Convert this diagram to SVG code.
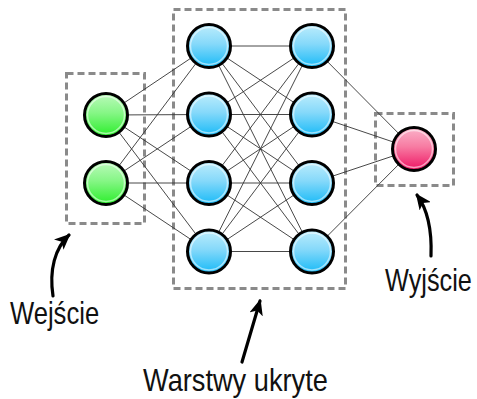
<svg xmlns="http://www.w3.org/2000/svg" width="477" height="399" viewBox="0 0 477 399">
  <defs>
    <linearGradient id="gGreen" x1="0" y1="0" x2="0" y2="1">
      <stop offset="0" stop-color="#bcfabc"/>
      <stop offset="0.45" stop-color="#86f686"/>
      <stop offset="1" stop-color="#2aee2a"/>
    </linearGradient>
    <linearGradient id="gBlue" x1="0" y1="0" x2="0" y2="1">
      <stop offset="0" stop-color="#bdedfc"/>
      <stop offset="0.45" stop-color="#86d9fa"/>
      <stop offset="1" stop-color="#18baf7"/>
    </linearGradient>
    <linearGradient id="gPink" x1="0" y1="0" x2="0" y2="1">
      <stop offset="0" stop-color="#fab4ca"/>
      <stop offset="0.45" stop-color="#f77ba2"/>
      <stop offset="1" stop-color="#ee1262"/>
    </linearGradient>
    <marker id="head" viewBox="0 0 16 14" refX="14" refY="7" markerWidth="16" markerHeight="14" markerUnits="userSpaceOnUse" orient="auto">
      <path d="M0,0 L16,7 L0,14 L4,7 Z" fill="#000"/>
    </marker>
    <style>
      .box { fill: none; stroke: #8a8a8a; stroke-width: 3; stroke-dasharray: 7 4; }
      .edge { stroke: #333; stroke-width: 0.9; fill: none; }
      .node { stroke: #000; stroke-width: 3; }
      .hl { fill: none; stroke: #fff; stroke-opacity: 0.55; stroke-width: 1.5; }
      .lbl { font-family: "Liberation Sans", Arial, sans-serif; font-size: 32px; fill: #111; }
      .arrow { fill: none; stroke: #000; stroke-width: 3.2; stroke-linecap: round; marker-end: url(#head); }
    </style>
  </defs>
  <rect width="477" height="399" fill="#fff"/>

  <g id="boxes">
    <rect class="box" x="66.5" y="73.5" width="78" height="150"/>
    <rect class="box" x="173.5" y="9.5" width="172" height="279"/>
    <rect class="box" x="375.5" y="113.5" width="78" height="72"/>
  </g>

  <g id="connectors">
    <!-- input to hidden1 -->
    <line class="edge" x1="106" y1="115" x2="209" y2="46"/>
    <line class="edge" x1="106" y1="115" x2="209" y2="114.5"/>
    <line class="edge" x1="106" y1="115" x2="209" y2="183"/>
    <line class="edge" x1="106" y1="115" x2="209" y2="251.5"/>
    <line class="edge" x1="106" y1="183" x2="209" y2="46"/>
    <line class="edge" x1="106" y1="183" x2="209" y2="114.5"/>
    <line class="edge" x1="106" y1="183" x2="209" y2="183"/>
    <line class="edge" x1="106" y1="183" x2="209" y2="251.5"/>
    <!-- hidden1 to hidden2 -->
    <line class="edge" x1="209" y1="46" x2="312" y2="46"/>
    <line class="edge" x1="209" y1="46" x2="312" y2="114.5"/>
    <line class="edge" x1="209" y1="46" x2="312" y2="183"/>
    <line class="edge" x1="209" y1="46" x2="312" y2="251.5"/>
    <line class="edge" x1="209" y1="114.5" x2="312" y2="46"/>
    <line class="edge" x1="209" y1="114.5" x2="312" y2="114.5"/>
    <line class="edge" x1="209" y1="114.5" x2="312" y2="183"/>
    <line class="edge" x1="209" y1="114.5" x2="312" y2="251.5"/>
    <line class="edge" x1="209" y1="183" x2="312" y2="46"/>
    <line class="edge" x1="209" y1="183" x2="312" y2="114.5"/>
    <line class="edge" x1="209" y1="183" x2="312" y2="183"/>
    <line class="edge" x1="209" y1="183" x2="312" y2="251.5"/>
    <line class="edge" x1="209" y1="251.5" x2="312" y2="46"/>
    <line class="edge" x1="209" y1="251.5" x2="312" y2="114.5"/>
    <line class="edge" x1="209" y1="251.5" x2="312" y2="183"/>
    <line class="edge" x1="209" y1="251.5" x2="312" y2="251.5"/>
    <!-- hidden2 to output -->
    <line class="edge" x1="312" y1="46" x2="414" y2="149"/>
    <line class="edge" x1="312" y1="114.5" x2="414" y2="149"/>
    <line class="edge" x1="312" y1="183" x2="414" y2="149"/>
    <line class="edge" x1="312" y1="251.5" x2="414" y2="149"/>
  </g>

  <g id="in1"><circle class="node" cx="106" cy="115" r="21.5" fill="url(#gGreen)"/><circle class="hl" cx="106" cy="115" r="18.5"/></g>
  <g id="in2"><circle class="node" cx="106" cy="183" r="21.5" fill="url(#gGreen)"/><circle class="hl" cx="106" cy="183" r="18.5"/></g>

  <g id="h1a"><circle class="node" cx="209" cy="46" r="21.5" fill="url(#gBlue)"/><circle class="hl" cx="209" cy="46" r="18.5"/></g>
  <g id="h1b"><circle class="node" cx="209" cy="114.5" r="21.5" fill="url(#gBlue)"/><circle class="hl" cx="209" cy="114.5" r="18.5"/></g>
  <g id="h1c"><circle class="node" cx="209" cy="183" r="21.5" fill="url(#gBlue)"/><circle class="hl" cx="209" cy="183" r="18.5"/></g>
  <g id="h1d"><circle class="node" cx="209" cy="251.5" r="21.5" fill="url(#gBlue)"/><circle class="hl" cx="209" cy="251.5" r="18.5"/></g>

  <g id="h2a"><circle class="node" cx="312" cy="46" r="21.5" fill="url(#gBlue)"/><circle class="hl" cx="312" cy="46" r="18.5"/></g>
  <g id="h2b"><circle class="node" cx="312" cy="114.5" r="21.5" fill="url(#gBlue)"/><circle class="hl" cx="312" cy="114.5" r="18.5"/></g>
  <g id="h2c"><circle class="node" cx="312" cy="183" r="21.5" fill="url(#gBlue)"/><circle class="hl" cx="312" cy="183" r="18.5"/></g>
  <g id="h2d"><circle class="node" cx="312" cy="251.5" r="21.5" fill="url(#gBlue)"/><circle class="hl" cx="312" cy="251.5" r="18.5"/></g>

  <g id="out"><circle class="node" cx="414" cy="149" r="21.5" fill="url(#gPink)"/><circle class="hl" cx="414" cy="149" r="18.5"/></g>

  <g id="label-input">
    <path class="arrow" d="M53,296 C49,270 55,248 69,235"/>
    <text class="lbl" transform="translate(10,324) scale(0.8,1)" x="0" y="0">Wejście</text>
  </g>
  <g id="label-hidden">
    <path class="arrow" d="M242,362 L260,301"/>
    <text class="lbl" transform="translate(143,391) scale(0.85,1)" x="0" y="0">Warstwy ukryte</text>
  </g>
  <g id="label-output">
    <path class="arrow" d="M431,256 C432,230 428,210 417,195"/>
    <text class="lbl" transform="translate(385,291) scale(0.79,1)" x="0" y="0">Wyjście</text>
  </g>
</svg>
